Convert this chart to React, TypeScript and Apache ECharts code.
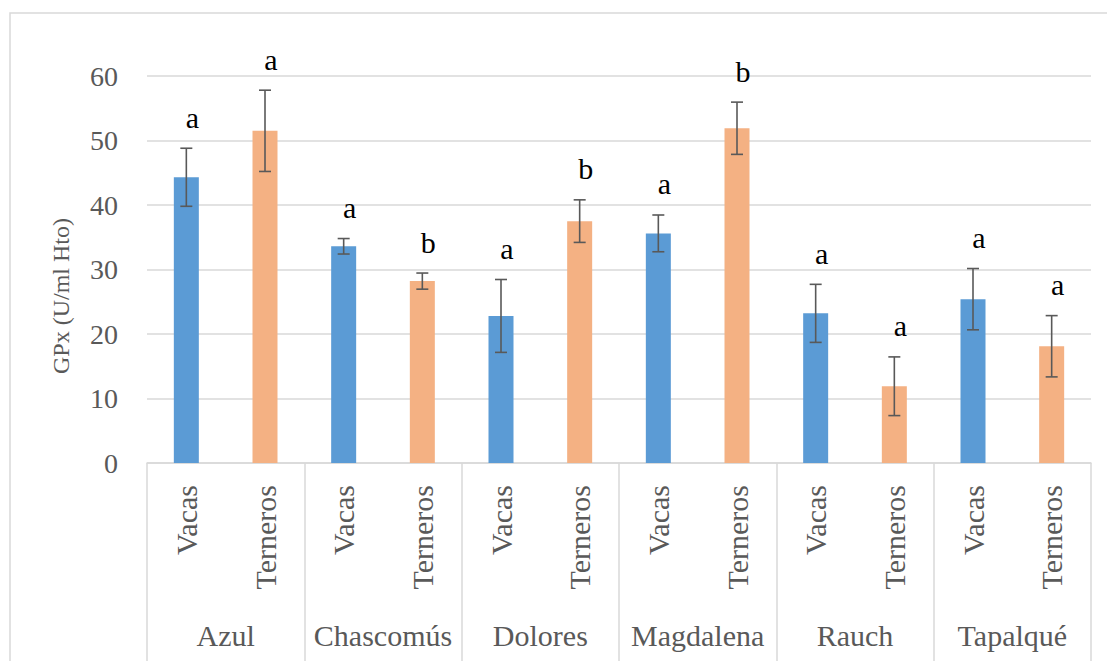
import React, { useEffect, useRef } from "react";
import * as echarts from "echarts";

const groups = ["Azul", "Chascomús", "Dolores", "Magdalena", "Rauch", "Tapalqué"];
const subCategories = ["Vacas", "Terneros", "Vacas", "Terneros", "Vacas", "Terneros", "Vacas", "Terneros", "Vacas", "Terneros", "Vacas", "Terneros"];
const means = [44.3, 51.5, 33.6, 28.2, 22.8, 37.5, 35.6, 51.9, 23.2, 11.9, 25.4, 18.1];
const errors = [4.5, 6.3, 1.2, 1.25, 5.65, 3.3, 2.85, 4.05, 4.5, 4.55, 4.75, 4.75];
const letters = ["a", "a", "a", "b", "a", "b", "a", "b", "a", "a", "a", "a"];
const yTicks = { min: 0, max: 60, interval: 10 };

const BLUE = "#5B9BD5";
const ORANGE = "#F4B183";
const SERIF = "Liberation Serif";
const GRAY = "#595959";
const LINE = "#d9d9d9";

export default function App() {
  const ref = useRef<HTMLDivElement>(null);
  useEffect(() => {
    if (!ref.current) return;
    const chart = echarts.init(ref.current, null, { renderer: "svg" });
    const option: any = {
      animation: false,
      backgroundColor: "#ffffff",
      grid: { left: 147, right: 16, top: 76, bottom: 198, containLabel: false },
      xAxis: [
        {
          type: "category",
          data: subCategories,
          position: "bottom",
          axisLine: { show: true, lineStyle: { color: LINE, width: 1.5 } },
          axisTick: { show: false },
          axisLabel: {
            interval: 0,
            rotate: 90,
            margin: 22,
            fontSize: 30,
            fontFamily: SERIF,
            color: GRAY,
          },
        },
        {
          type: "category",
          data: groups,
          position: "bottom",
          gridIndex: 0,
          axisLine: { show: false },
          axisTick: { show: true, interval: 0, length: 200, lineStyle: { color: LINE, width: 1.5 } },
          axisLabel: {
            interval: 0,
            margin: 157,
            fontSize: 30,
            fontFamily: SERIF,
            color: GRAY,
          },
        },
      ],
      yAxis: {
        type: "value",
        min: yTicks.min,
        max: yTicks.max,
        interval: yTicks.interval,
        axisLine: { show: false },
        axisTick: { show: false },
        splitLine: { lineStyle: { color: LINE, width: 1.5 } },
        axisLabel: { fontSize: 28, fontFamily: SERIF, color: GRAY, margin: 29 },
      },
      graphic: [
        {
          type: "rect",
          shape: { x: 10, y: 13, width: 1200, height: 800 },
          style: { fill: "none", stroke: LINE, lineWidth: 1.5 },
          silent: true,
          z: -10,
        },
        {
          type: "text",
          x: 61,
          y: 296,
          rotation: Math.PI / 2,
          style: {
            text: "GPx (U/ml Hto)",
            fontSize: 24,
            fontFamily: SERIF,
            fill: GRAY,
            align: "center",
            verticalAlign: "middle",
          },
        },
      ],
      series: [
        {
          type: "bar",
          xAxisIndex: 0,
          barWidth: 25,
          data: means.map((v, i) => ({
            value: v,
            itemStyle: { color: i % 2 === 0 ? BLUE : ORANGE },
          })),
        },
        {
          type: "custom",
          xAxisIndex: 0,
          z: 5,
          data: means.map((v, i) => [i, v, errors[i]]),
          renderItem: (params: any, api: any) => {
            const i = api.value(0);
            const m = api.value(1);
            const e = api.value(2);
            const hi = api.coord([i, m + e]);
            const lo = api.coord([i, m - e]);
            const cap = 6;
            const st = { stroke: "#595959", lineWidth: 1.6 };
            return {
              type: "group",
              children: [
                { type: "line", shape: { x1: hi[0], y1: hi[1], x2: lo[0], y2: lo[1] }, style: st },
                { type: "line", shape: { x1: hi[0] - cap, y1: hi[1], x2: hi[0] + cap, y2: hi[1] }, style: st },
                { type: "line", shape: { x1: lo[0] - cap, y1: lo[1], x2: lo[0] + cap, y2: lo[1] }, style: st },
                {
                  type: "text",
                  x: hi[0] + 6,
                  y: hi[1] - 16,
                  style: {
                    text: letters[params.dataIndex],
                    fontSize: 30,
                    fontFamily: SERIF,
                    fill: "#000000",
                    align: "center",
                    verticalAlign: "bottom",
                  },
                },
              ],
            };
          },
        },
      ],
    };
    chart.setOption(option);
    return () => chart.dispose();
  }, []);
  return (
    <div
      ref={ref}
      style={{ position: "fixed", left: 0, top: 0, width: 1107, height: 661, background: "#fff" }}
    />
  );
}
